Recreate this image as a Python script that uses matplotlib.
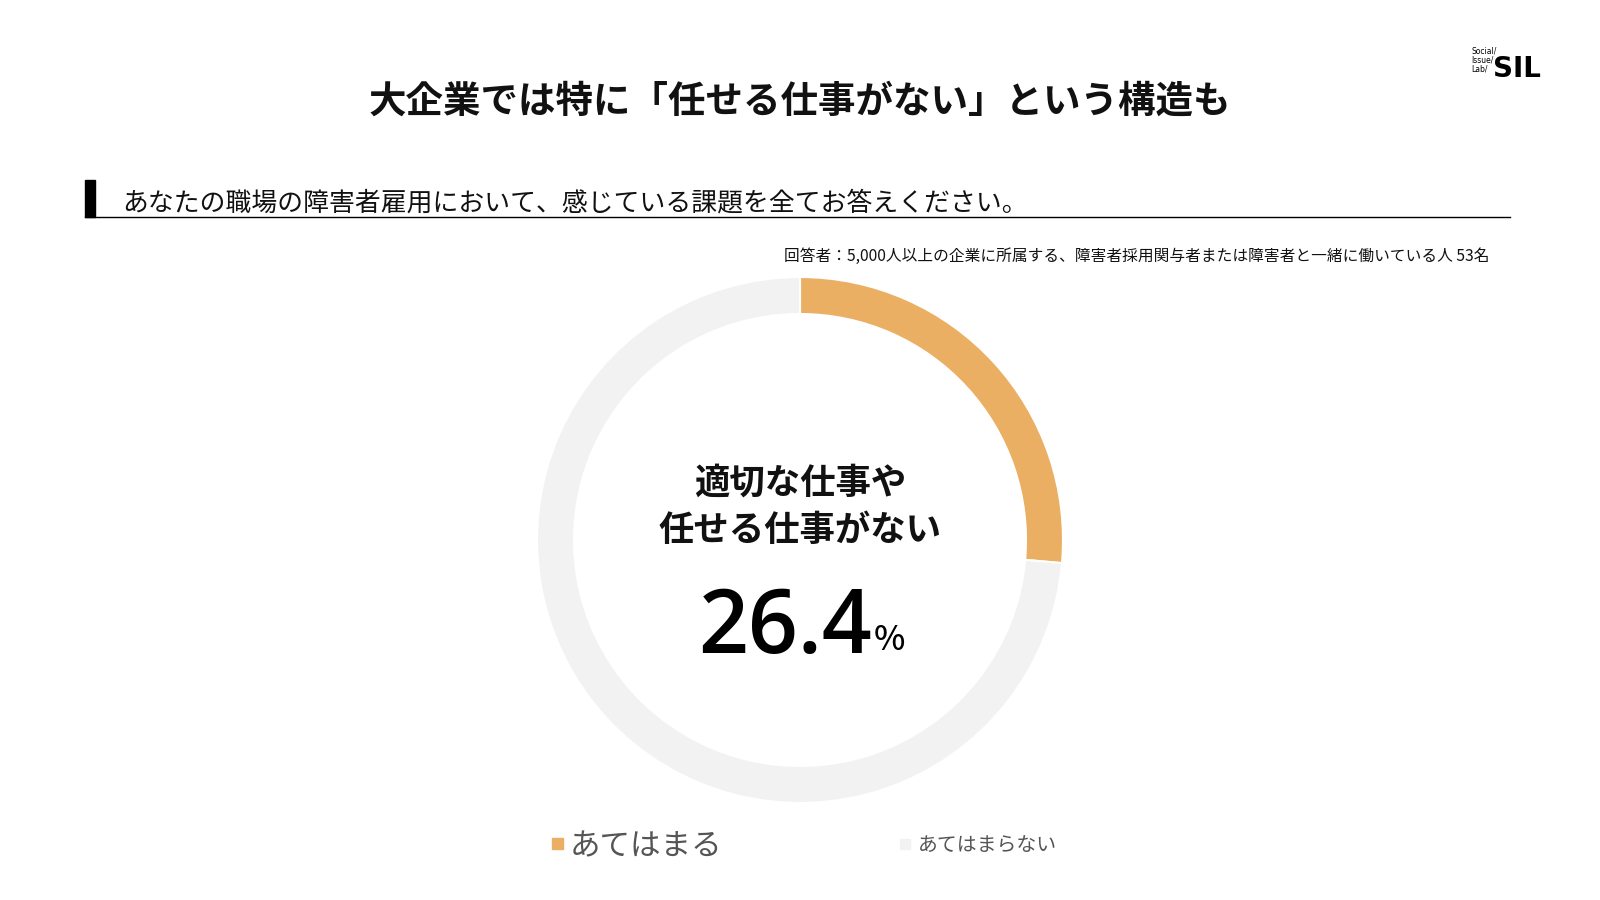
import matplotlib.pyplot as plt
from matplotlib.patches import Rectangle
from matplotlib.lines import Line2D

plt.rcParams['font.family'] = ['Noto Sans CJK JP', 'DejaVu Sans']

labels = ['あてはまる', 'あてはまらない']
values = [26.4, 73.6]
colors = ['#EBAF63', '#F2F2F2']
center_label = '適切な仕事や\n任せる仕事がない'

W, H = 1600, 900
fig = plt.figure(figsize=(16, 9), dpi=100)

def fx(x):
    return x / W

def fy(y):
    return 1 - y / H

# title
fig.text(fx(800), fy(101), '大企業では特に「任せる仕事がない」という構造も',
         ha='center', va='center', fontsize=27, fontweight='bold', color='#111111')

# logo
fig.text(fx(1493), fy(69), 'SIL', ha='left', va='center', fontsize=20,
         fontweight='bold', color='black', family=['DejaVu Sans'])
fig.text(fx(1471), fy(60), 'Social/\nIssue/\nLab/', ha='left', va='center',
         fontsize=5.5, color='black', linespacing=1.0, family=['DejaVu Sans'])

# question header
fig.patches.append(Rectangle((fx(85), fy(217)), fx(10), 37 / H,
                             transform=fig.transFigure, color='black'))
fig.lines.append(Line2D([fx(85), fx(1510)], [fy(217), fy(217)],
                        transform=fig.transFigure, color='black', lw=1))
fig.text(fx(122), fy(203), 'あなたの職場の障害者雇用において、感じている課題を全てお答えください。',
         ha='left', va='center', fontsize=18.6, color='#111111')
fig.text(fx(1490), fy(256),
         '回答者：5,000人以上の企業に所属する、障害者採用関与者または障害者と一緒に働いている人 53名',
         ha='right', va='center', fontsize=11.3, color='#111111')

# donut
R = 263
ax = fig.add_axes([(800 - R) / W, (H - 540 - R) / H, 2 * R / W, 2 * R / H])
ax.pie(values, colors=colors, startangle=90, counterclock=False,
       wedgeprops=dict(width=37 / R, edgecolor='white', linewidth=1.5))
ax.set_aspect('equal')
ax.set_xlim(-1, 1)
ax.set_ylim(-1, 1)
ax.axis('off')

fig.text(fx(800), fy(507), center_label, ha='center', va='center',
         fontsize=25.5, fontweight='bold', color='#111111', linespacing=1.45)
fig.text(fx(872), fy(653), f'{values[0]:.1f}', ha='right', va='baseline',
         fontsize=63, fontweight='semibold', color='black',
         family=['Open Sans', 'DejaVu Sans'])
fig.text(fx(874), fy(650), '%', ha='left', va='baseline',
         fontsize=24, fontweight='medium', color='black')

# legend
fig.patches.append(Rectangle((fx(552), fy(849)), fx(11), 11 / H,
                             transform=fig.transFigure, color=colors[0]))
fig.text(fx(570), fy(847), labels[0], ha='left', va='center',
         fontsize=22, color='#555555')
fig.patches.append(Rectangle((fx(900), fy(849)), fx(10), 10 / H,
                             transform=fig.transFigure, color=colors[1]))
fig.text(fx(918), fy(846), labels[1], ha='left', va='center',
         fontsize=14.3, color='#555555')

fig.savefig('out.png', dpi=100)
